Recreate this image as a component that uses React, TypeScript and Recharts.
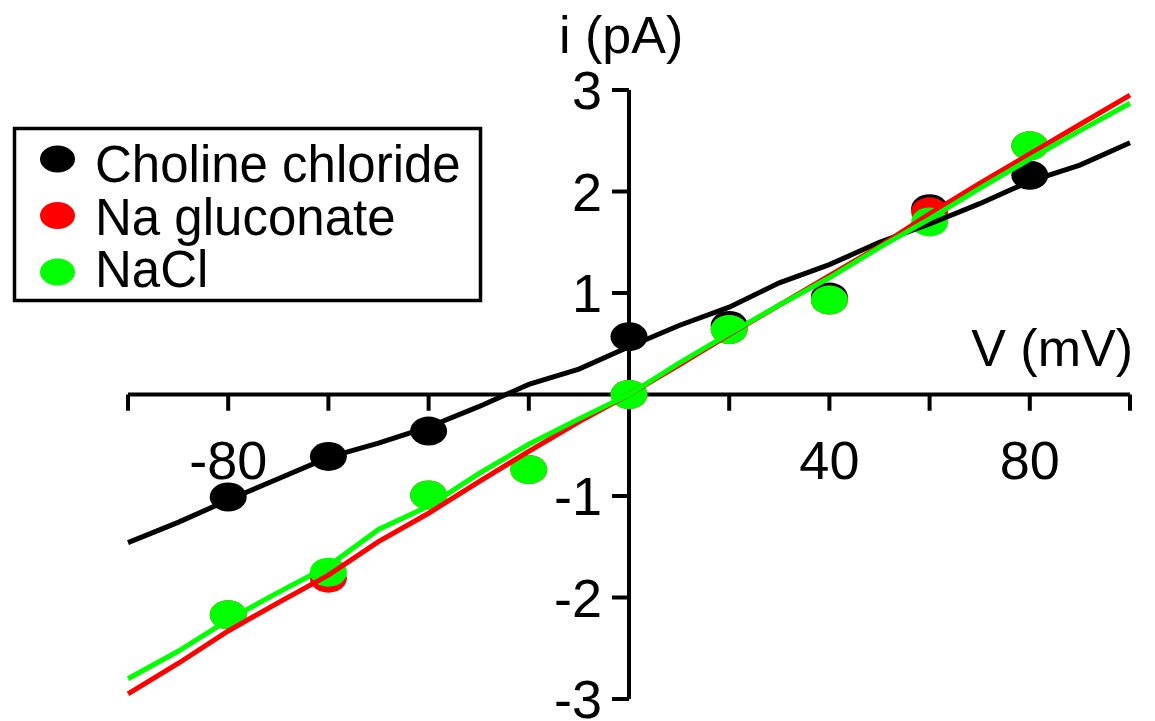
import React from 'react';
import { ScatterChart, Scatter, XAxis, YAxis, ReferenceLine } from 'recharts';

// measured points
const cholineV = [-80, -60, -40, 0, 20, 40, 60, 80];
const cholineI = [-1.01, -0.61, -0.36, 0.57, 0.68, 0.96, 1.83, 2.16];
const glucV = [-80, -60, -40, -20, 0, 20, 40, 60, 80];
const glucI = [-2.17, -1.81, -0.99, -0.74, 0, 0.64, 0.93, 1.8, 2.45];
const naclV = [-80, -60, -40, -20, 0, 20, 40, 60, 80];
const naclI = [-2.17, -1.75, -0.99, -0.74, 0, 0.64, 0.93, 1.7, 2.45];

// fitted curves
const fitV = [-100, -90, -80, -70, -60, -50, -40, -30, -20, -10, 0, 10, 20, 30, 40, 50, 60, 70, 80, 90, 100];
const cholineFit = [-1.46, -1.26, -1.04, -0.83, -0.62, -0.48, -0.32, -0.12, 0.1, 0.25, 0.47, 0.68, 0.86, 1.1, 1.28, 1.5, 1.68, 1.88, 2.1, 2.26, 2.48];
const glucFit = [-2.95, -2.65, -2.33, -2.05, -1.78, -1.45, -1.17, -0.86, -0.56, -0.27, 0, 0.29, 0.59, 0.88, 1.17, 1.46, 1.78, 2.08, 2.37, 2.66, 2.95];
const naclFit = [-2.8, -2.53, -2.22, -1.95, -1.69, -1.33, -1.1, -0.78, -0.49, -0.24, 0, 0.31, 0.6, 0.88, 1.15, 1.45, 1.73, 2.03, 2.32, 2.6, 2.87];

const xTicks = [-100, -80, -60, -40, -20, 20, 40, 60, 80, 100];
const xTickLabels = ['', '-80', '', '', '', '', '40', '', '80', ''];
const yTicks = [3, 2, 1, -1, -2, -3];
const yTickLabels = ['3', '2', '1', '-1', '-2', '-3'];

const seriesNames = ['Choline chloride', 'Na gluconate', 'NaCl'];
const seriesColors = ['#000000', '#ff0000', '#00ff00'];

const toPts = (xs: number[], ys: number[]) => xs.map((v, k) => ({ v, i: ys[k] }));

const FONT = '"Liberation Sans", Arial, sans-serif';

const Ellipse = (color: string) => (props: any) => (
  <ellipse cx={props.cx} cy={props.cy} rx={18.5} ry={14.5} fill={color} />
);
const NoShape = () => <g />;

export default function App() {
  const pointSets = [toPts(cholineV, cholineI), toPts(glucV, glucI), toPts(naclV, naclI)];
  const fitSets = [toPts(fitV, cholineFit), toPts(fitV, glucFit), toPts(fitV, naclFit)];

  return (
    <div style={{ position: 'absolute', left: 0, top: 0, width: 1155, height: 721, background: '#fff', fontFamily: FONT }}>
      <ScatterChart width={1155} height={721} margin={{ top: 90, right: 25, bottom: 22, left: 128 }}>
        <XAxis type="number" dataKey="v" domain={[-100, 100]} hide />
        <YAxis type="number" dataKey="i" domain={[-3, 3]} hide />
        <ReferenceLine y={0} stroke="#000" strokeWidth={4} />
        <ReferenceLine x={0} stroke="#000" strokeWidth={4} />
        {xTicks.map((t, k) => (
          <ReferenceLine
            key={'xt' + t}
            segment={[{ x: t, y: 0 }, { x: t, y: -0.16 }]}
            stroke="#000"
            strokeWidth={4}
            label={(p: any) =>
              xTickLabels[k] ? (
                <text x={p.viewBox.x} y={p.viewBox.y + p.viewBox.height + 68} textAnchor="middle" fontSize={54} fontFamily={FONT} fill="#000">
                  {xTickLabels[k]}
                </text>
              ) : null
            }
          />
        ))}
        {yTicks.map((t, k) => (
          <ReferenceLine
            key={'yt' + t}
            segment={[{ x: -3.4, y: t }, { x: 0, y: t }]}
            stroke="#000"
            strokeWidth={4}
            label={(p: any) => (
              <text x={p.viewBox.x - 10} y={p.viewBox.y + 19} textAnchor="end" fontSize={54} fontFamily={FONT} fill="#000">
                {yTickLabels[k]}
              </text>
            )}
          />
        ))}
        {pointSets.map((d, k) => (
          <Scatter key={'p' + k} name={seriesNames[k]} data={d} shape={Ellipse(seriesColors[k])} isAnimationActive={false} />
        ))}
        {fitSets.map((d, k) => (
          <Scatter
            key={'f' + k}
            data={d}
            shape={NoShape}
            stroke={seriesColors[k]}
            strokeWidth={5}
            line={{ stroke: seriesColors[k], strokeWidth: 5 }}
            legendType="none"
            isAnimationActive={false}
          />
        ))}
      </ScatterChart>

      {/* axis titles */}
      <div style={{ position: 'absolute', left: 559, top: 5, fontSize: 52, lineHeight: '60px', color: '#000', whiteSpace: 'nowrap' }}>i (pA)</div>
      <div style={{ position: 'absolute', right: 22, top: 318, fontSize: 52, lineHeight: '60px', color: '#000', whiteSpace: 'nowrap' }}>V (mV)</div>

      {/* legend */}
      <svg style={{ position: 'absolute', left: 12, top: 126 }} width={472} height={178}>
        <rect x={2.5} y={2.5} width={466} height={172} fill="#fff" stroke="#000" strokeWidth={3.5} />
        {seriesNames.map((n, k) => (
          <g key={n}>
            <ellipse cx={45.5} cy={33 + k * 56.5} rx={17.5} ry={13.5} fill={seriesColors[k]} />
            <text x={83} y={56 + k * 52.5} fontSize={51} fontFamily={FONT} fill="#000">{n}</text>
          </g>
        ))}
      </svg>
    </div>
  );
}
